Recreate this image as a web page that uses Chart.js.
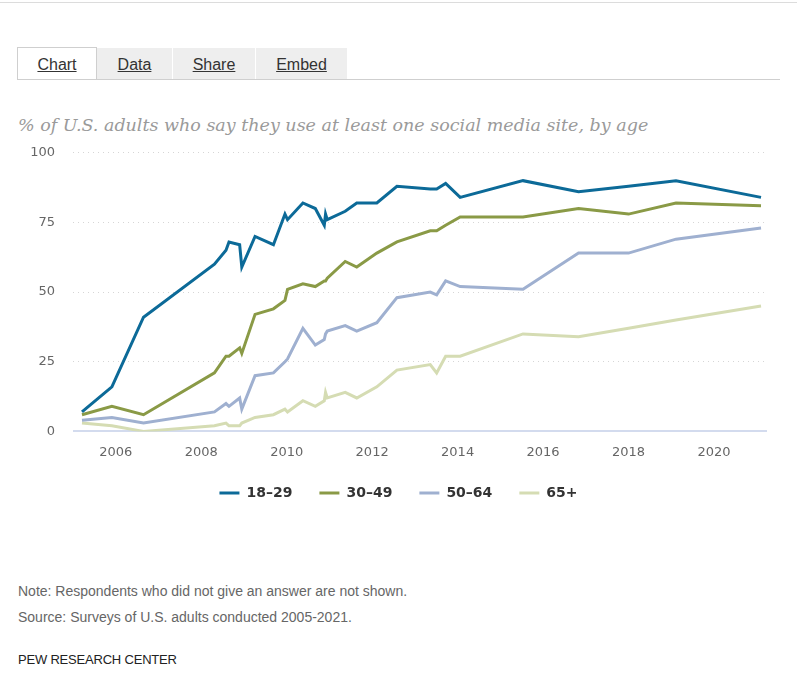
<!DOCTYPE html>
<html>
<head>
    <meta charset='utf-8'>
    <title>Social media use by age</title>
    <style>
        body { margin: 0; background: #fff; width: 797px; height: 688px; position: relative; overflow: hidden; }
        .topline { position: absolute; left: 0; top: 2px; width: 797px; border-top: 1px solid #dcdcdc; }
        .tabs { position: absolute; left: 17px; top: 48px; height: 31px; width: 763px; border-bottom: 1px solid #cfcfcf; }
        .tab { position: absolute; top: 0; height: 23px; padding-top: 8px; line-height: 31px; text-align: center; font: 16px "Liberation Sans", Arial, sans-serif; color: #333; text-decoration: underline; background: #eee; overflow: hidden; }
        .tab.active { background: #fff; border: 1px solid #cfcfcf; border-bottom: none; top: -1px; }
        .title { position: absolute; left: 18px; top: 115px; font: italic 17.5px "DejaVu Serif", Georgia, serif; color: #9a9a9a; white-space: nowrap; }
        .note { position: absolute; left: 18px; font: 14px "Liberation Sans", Arial, sans-serif; color: #666; white-space: nowrap; }
        .brand { position: absolute; left: 18px; top: 652px; font: 13px "Liberation Sans", Arial, sans-serif; color: #222; letter-spacing: -0.2px; }
    </style>
</head>
<body>
    <div class="topline"></div>
    <div class="tabs">
        <div class="tab active" style="left: 0; width: 78px;">Chart</div>
        <div class="tab" style="left: 80px; width: 75px;">Data</div>
        <div class="tab" style="left: 156px; width: 82px;">Share</div>
        <div class="tab" style="left: 239px; width: 91px;">Embed</div>
    </div>
    <div class="title">% of U.S. adults who say they use at least one social media site, by age</div>

    <div style="position: absolute; left: 0; top: 127px; width: 797px; height: 383px;">
        <canvas id="myChart"></canvas>
    </div>

    <div class="note" style="top: 583px;">Note: Respondents who did not give an answer are not shown.</div>
    <div class="note" style="top: 609px;">Source: Surveys of U.S. adults conducted 2005-2021.</div>
    <div class="brand">PEW RESEARCH CENTER</div>

    <script src="https://cdn.jsdelivr.net/npm/chart.js"></script>
    <script>
// survey dates as decimal years
const surveyDates = [2005.21, 2005.91, 2006.65, 2008.31, 2008.58, 2008.65, 2008.90, 2008.95, 2009.26, 2009.69,
    2009.96, 2010.02, 2010.38, 2010.67, 2010.88, 2010.91, 2010.95, 2011.37, 2011.64, 2012.11,
    2012.58, 2013.36, 2013.51, 2013.72, 2014.06, 2015.53, 2016.83, 2018.00, 2019.11, 2021.10];

const ages18to29 = [7, 16, 41, 60, 65, 68, 67, 59, 70, 67,
    78, 76, 82, 80, 74, 78, 76, 79, 82, 82,
    88, 87, 87, 89, 84, 90, 86, 88, 90, 84];
const ages30to49 = [6, 9, 6, 21, 27, 27, 30, 28, 42, 44,
    47, 51, 53, 52, 54, 54, 55, 61, 59, 64,
    68, 72, 72, 74, 77, 77, 80, 78, 82, 81];
const ages50to64 = [4, 5, 3, 7, 10, 9, 12, 8, 20, 21,
    25, 26, 37, 31, 33, 35, 36, 38, 36, 39,
    48, 50, 49, 54, 52, 51, 64, 64, 69, 73];
const ages65plus = [3, 2, 0, 2, 3, 2, 2, 3, 5, 6,
    8, 7, 11, 9, 11, 14, 12, 14, 12, 16,
    22, 24, 21, 27, 27, 35, 34, 37, 40, 45];

const seriesLabels = ['18\u201329', '30\u201349', '50\u201364', '65+'];
const seriesColors = ['#0c6a98', '#8a9a46', '#9fb0d0', '#d5dcb3'];
const xTickYears = [2006, 2008, 2010, 2012, 2014, 2016, 2018, 2020];
const yTickValues = [0, 25, 50, 75, 100];

const toPoints = (vals) => surveyDates.map((d, i) => ({x: d, y: vals[i]}));

const allSeries = [ages18to29, ages30to49, ages50to64, ages65plus];

const data = {
    datasets: allSeries.map((vals, i) => ({
        label: seriesLabels[i],
        data: toPoints(vals),
        borderColor: seriesColors[i],
        backgroundColor: seriesColors[i],
        borderWidth: 3,
        pointRadius: 0,
        pointHoverRadius: 0,
        tension: 0,
        order: i
    }))
};

const config = {
    type: 'line',
    data: data,
    options: {
        responsive: true,
        maintainAspectRatio: false,
        animation: false,
        layout: { padding: { top: 1, left: 30, right: 30, bottom: 0 } },
        plugins: {
            tooltip: { enabled: false },
            legend: {
                position: 'bottom',
                labels: {
                    usePointStyle: true,
                    pointStyle: 'line',
                    pointStyleWidth: 20,
                    padding: 27,
                    color: '#333',
                    font: { family: 'DejaVu Sans', size: 14, weight: 'bold' }
                }
            }
        },
        scales: {
            x: {
                type: 'linear',
                min: 2005,
                max: 2021.24,
                afterBuildTicks: (scale) => { scale.ticks = xTickYears.map(v => ({value: v})); },
                afterFit: (scale) => { scale.height -= 14; },
                grid: { display: false, drawTicks: false },
                border: { display: false },
                ticks: {
                    padding: 13,
                    color: '#666',
                    font: { family: 'DejaVu Sans', size: 13 },
                    callback: (v) => String(v)
                }
            },
            y: {
                min: 0,
                max: 100,
                afterBuildTicks: (scale) => { scale.ticks = yTickValues.map(v => ({value: v})); },
                afterFit: (scale) => { scale.width = 43; },
                grid: {
                    drawTicks: false,
                    color: (ctx) => ctx.tick && ctx.tick.value === 0 ? '#d3dbee' : '#d6d6d6',
                    lineWidth: (ctx) => ctx.tick && ctx.tick.value === 0 ? 2 : 1
                },
                border: {
                    display: false,
                    dash: (ctx) => ctx.tick && ctx.tick.value === 0 ? [] : [1, 4]
                },
                ticks: {
                    padding: 18,
                    color: '#666',
                    font: { family: 'DejaVu Sans', size: 13 }
                }
            }
        }
    }
};

new Chart(document.getElementById('myChart'), config);
    </script>
</body>
</html>
